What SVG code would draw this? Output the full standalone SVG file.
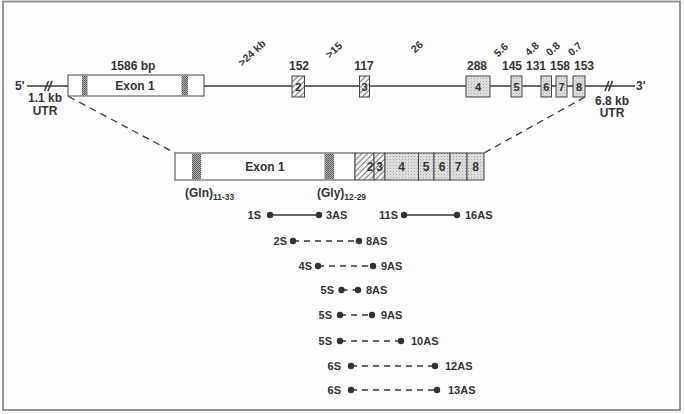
<svg xmlns="http://www.w3.org/2000/svg" width="685" height="414" viewBox="0 0 685 414">
<defs>
<pattern id="stip" width="2" height="2" patternUnits="userSpaceOnUse">
<rect width="2" height="2" fill="#b0b0b0"/><rect width="1" height="1" fill="#555"/><rect x="1" y="1" width="1" height="1" fill="#666"/>
</pattern>
<pattern id="light" width="3" height="3" patternUnits="userSpaceOnUse">
<rect width="3" height="3" fill="#dcdcdc"/><rect width="1" height="1" fill="#a8a8a8"/>
</pattern>
<pattern id="hatch" width="4" height="4" patternUnits="userSpaceOnUse" patternTransform="rotate(45)">
<rect width="4" height="4" fill="#f2f2f2"/><line x1="0" y1="0" x2="0" y2="4" stroke="#444" stroke-width="1.3"/>
</pattern>
</defs>
<style>
.t{font-family:"Liberation Sans",Arial,sans-serif;font-weight:bold;fill:#333;}
.s12{font-size:12px;}
.s11{font-size:11px;}
.s10{font-size:10.5px;}
.sub{font-size:8.5px;}
.m{text-anchor:middle;}
.e{text-anchor:end;}
.box{stroke:#444;stroke-width:1;}
.gl{stroke:#3a3a3a;stroke-width:1.6;fill:none;}
.dash{stroke:#3a3a3a;stroke-width:1.3;stroke-dasharray:7 5;fill:none;}
.pl{stroke:#333;stroke-width:1.5;fill:none;}
.pd{stroke:#333;stroke-width:1.5;stroke-dasharray:6 5;fill:none;}
.dot{fill:#333;}
</style>
<rect x="3" y="1.5" width="677" height="408.5" fill="#fefefe" stroke="#8a8a8a" stroke-width="1.8"/>

<g id="gene">
<line class="gl" x1="27" y1="86" x2="635" y2="86"/>
<g id="break-left"><line class="gl" x1="44.5" y1="91" x2="48.5" y2="81"/><line class="gl" x1="48" y1="91" x2="52" y2="81"/></g>
<g id="break-right"><line class="gl" x1="605" y1="91" x2="609" y2="81"/><line class="gl" x1="608.5" y1="91" x2="612.5" y2="81"/></g>
<text class="t s12" x="15" y="90">5'</text>
<text class="t s12" x="636" y="90">3'</text>
<text class="t s12 m" x="45" y="102">1.1 kb</text>
<text class="t s12 m" x="45" y="115">UTR</text>
<text class="t s12 m" x="612" y="104.5">6.8 kb</text>
<text class="t s12 m" x="612" y="117">UTR</text>
</g>

<g id="exon1">
<rect class="box" x="68" y="75" width="136" height="21" fill="#fff"/>
<rect x="82" y="75.5" width="5.5" height="20" fill="url(#stip)"/>
<rect x="181.5" y="75.5" width="6.5" height="20" fill="url(#stip)"/>
<text class="t s12 m" x="135" y="90">Exon 1</text>
<text class="t s12 m" x="133" y="70">1586 bp</text>
</g>
<g id="exon2">
<rect class="box" x="292" y="76" width="12.5" height="21" fill="url(#hatch)"/>
<text class="t s11 m" x="298.3" y="90.5">2</text>
<text class="t s12 m" x="299" y="70">152</text>
</g>
<g id="exon3">
<rect class="box" x="359.5" y="76" width="10" height="21" fill="url(#hatch)"/>
<text class="t s11 m" x="364.5" y="90.5">3</text>
<text class="t s12 m" x="364" y="70">117</text>
</g>
<g id="exon4">
<rect class="box" x="466" y="76" width="24" height="21" fill="url(#light)"/>
<text class="t s11 m" x="478" y="90.5">4</text>
<text class="t s12 m" x="477" y="70">288</text>
</g>
<g id="exon5">
<rect class="box" x="511" y="76" width="11" height="21" fill="url(#light)"/>
<text class="t s11 m" x="516.5" y="90.5">5</text>
<text class="t s12 m" x="512" y="70">145</text>
</g>
<g id="exon6">
<rect class="box" x="541" y="76" width="10.5" height="21" fill="url(#light)"/>
<text class="t s11 m" x="546.3" y="90.5">6</text>
<text class="t s12 m" x="536" y="70">131</text>
</g>
<g id="exon7">
<rect class="box" x="556" y="76" width="11" height="21" fill="url(#light)"/>
<text class="t s11 m" x="561.5" y="90.5">7</text>
<text class="t s12 m" x="560" y="70">158</text>
</g>
<g id="exon8">
<rect class="box" x="573" y="76" width="12" height="21" fill="url(#light)"/>
<text class="t s11 m" x="579" y="90.5">8</text>
<text class="t s12 m" x="584" y="70">153</text>
</g>

<g id="intron-sizes">
<text class="t s10 m" transform="translate(252,53) rotate(-43)" x="0" y="3.5">&gt;24 kb</text>
<text class="t s10 m" transform="translate(334,50) rotate(-43)" x="0" y="3.5">&gt;15</text>
<text class="t s10 m" transform="translate(417,47) rotate(-43)" x="0" y="3.5">26</text>
<text class="t s10 m" transform="translate(501,50) rotate(-43)" x="0" y="3.5">5.6</text>
<text class="t s10 m" transform="translate(532,49) rotate(-43)" x="0" y="3.5">4.8</text>
<text class="t s10 m" transform="translate(553,49) rotate(-43)" x="0" y="3.5">0.8</text>
<text class="t s10 m" transform="translate(575,49) rotate(-43)" x="0" y="3.5">0.7</text>
</g>

<g id="cdna">
<rect class="box" x="175" y="153" width="180" height="27" fill="#fff"/>
<rect x="192" y="153.5" width="9" height="26" fill="url(#stip)"/>
<rect x="324.5" y="153.5" width="9.5" height="26" fill="url(#stip)"/>
<text class="t s12 m" x="265" y="170.5">Exon 1</text>
<rect class="box" x="355" y="153" width="19" height="27" fill="url(#hatch)"/>
<rect class="box" x="374" y="153" width="11" height="27" fill="url(#hatch)"/>
<rect class="box" x="385" y="153" width="33.5" height="27" fill="url(#light)"/>
<rect class="box" x="418.5" y="153" width="15.5" height="27" fill="url(#light)"/>
<rect class="box" x="434" y="153" width="16" height="27" fill="url(#light)"/>
<rect class="box" x="450" y="153" width="17" height="27" fill="url(#light)"/>
<rect class="box" x="467" y="153" width="17" height="27" fill="url(#light)"/>
<text class="t s12 m" x="370" y="170.5">2</text>
<text class="t s12 m" x="379.5" y="170.5">3</text>
<text class="t s12 m" x="401.7" y="170.5">4</text>
<text class="t s12 m" x="426" y="170.5">5</text>
<text class="t s12 m" x="442" y="170.5">6</text>
<text class="t s12 m" x="458" y="170.5">7</text>
<text class="t s12 m" x="475.5" y="170.5">8</text>
<text class="t s12" x="185" y="197">(Gln)<tspan class="sub" dy="3">11-33</tspan></text>
<text class="t s12" x="317" y="197">(Gly)<tspan class="sub" dy="3">12-29</tspan></text>
</g>

<g id="connectors">
<line class="dash" x1="68.5" y1="96.5" x2="175" y2="153"/>
<line class="dash" x1="585" y1="97" x2="484" y2="153"/>
<g id="p1"><line class="pl" x1="270" y1="215" x2="319" y2="215"/><circle class="dot" cx="270" cy="215" r="3.2"/><circle class="dot" cx="319" cy="215" r="3.2"/></g>
<g id="p2"><line class="pl" x1="404" y1="215" x2="457" y2="215"/><circle class="dot" cx="404" cy="215" r="3.2"/><circle class="dot" cx="457" cy="215" r="3.2"/></g>
<g id="p3"><line class="pd" x1="293" y1="241" x2="359" y2="241"/><circle class="dot" cx="293" cy="241" r="3.2"/><circle class="dot" cx="359" cy="241" r="3.2"/></g>
<g id="p4"><line class="pd" x1="318" y1="266" x2="373" y2="266"/><circle class="dot" cx="318" cy="266" r="3.2"/><circle class="dot" cx="373" cy="266" r="3.2"/></g>
<g id="p5"><line class="pd" x1="341.5" y1="290" x2="358" y2="290"/><circle class="dot" cx="341.5" cy="290" r="3.2"/><circle class="dot" cx="358" cy="290" r="3.2"/></g>
<g id="p6"><line class="pd" x1="340" y1="315" x2="372" y2="315"/><circle class="dot" cx="340" cy="315" r="3.2"/><circle class="dot" cx="372" cy="315" r="3.2"/></g>
<g id="p7"><line class="pd" x1="340" y1="341" x2="401" y2="341"/><circle class="dot" cx="340" cy="341" r="3.2"/><circle class="dot" cx="401" cy="341" r="3.2"/></g>
<g id="p8"><line class="pd" x1="351" y1="366" x2="435" y2="366"/><circle class="dot" cx="351" cy="366" r="3.2"/><circle class="dot" cx="435" cy="366" r="3.2"/></g>
<g id="p9"><line class="pd" x1="351" y1="390" x2="437" y2="390"/><circle class="dot" cx="351" cy="390" r="3.2"/><circle class="dot" cx="437" cy="390" r="3.2"/></g>
</g>

<g id="primers">
<text class="t s11 e" x="261" y="219">1S</text><text class="t s11" x="326" y="219">3AS</text>
<text class="t s11 e" x="398" y="219">11S</text><text class="t s11" x="465" y="219">16AS</text>
<text class="t s11 e" x="287" y="245">2S</text><text class="t s11" x="366" y="245">8AS</text>
<text class="t s11 e" x="312" y="270">4S</text><text class="t s11" x="381" y="270">9AS</text>
<text class="t s11 e" x="334" y="294">5S</text><text class="t s11" x="366" y="294">8AS</text>
<text class="t s11 e" x="332" y="319">5S</text><text class="t s11" x="381" y="319">9AS</text>
<text class="t s11 e" x="332" y="345">5S</text><text class="t s11" x="411" y="345">10AS</text>
<text class="t s11 e" x="341" y="370">6S</text><text class="t s11" x="445" y="370">12AS</text>
<text class="t s11 e" x="341" y="394">6S</text><text class="t s11" x="448" y="394">13AS</text>
</g>
</svg>
